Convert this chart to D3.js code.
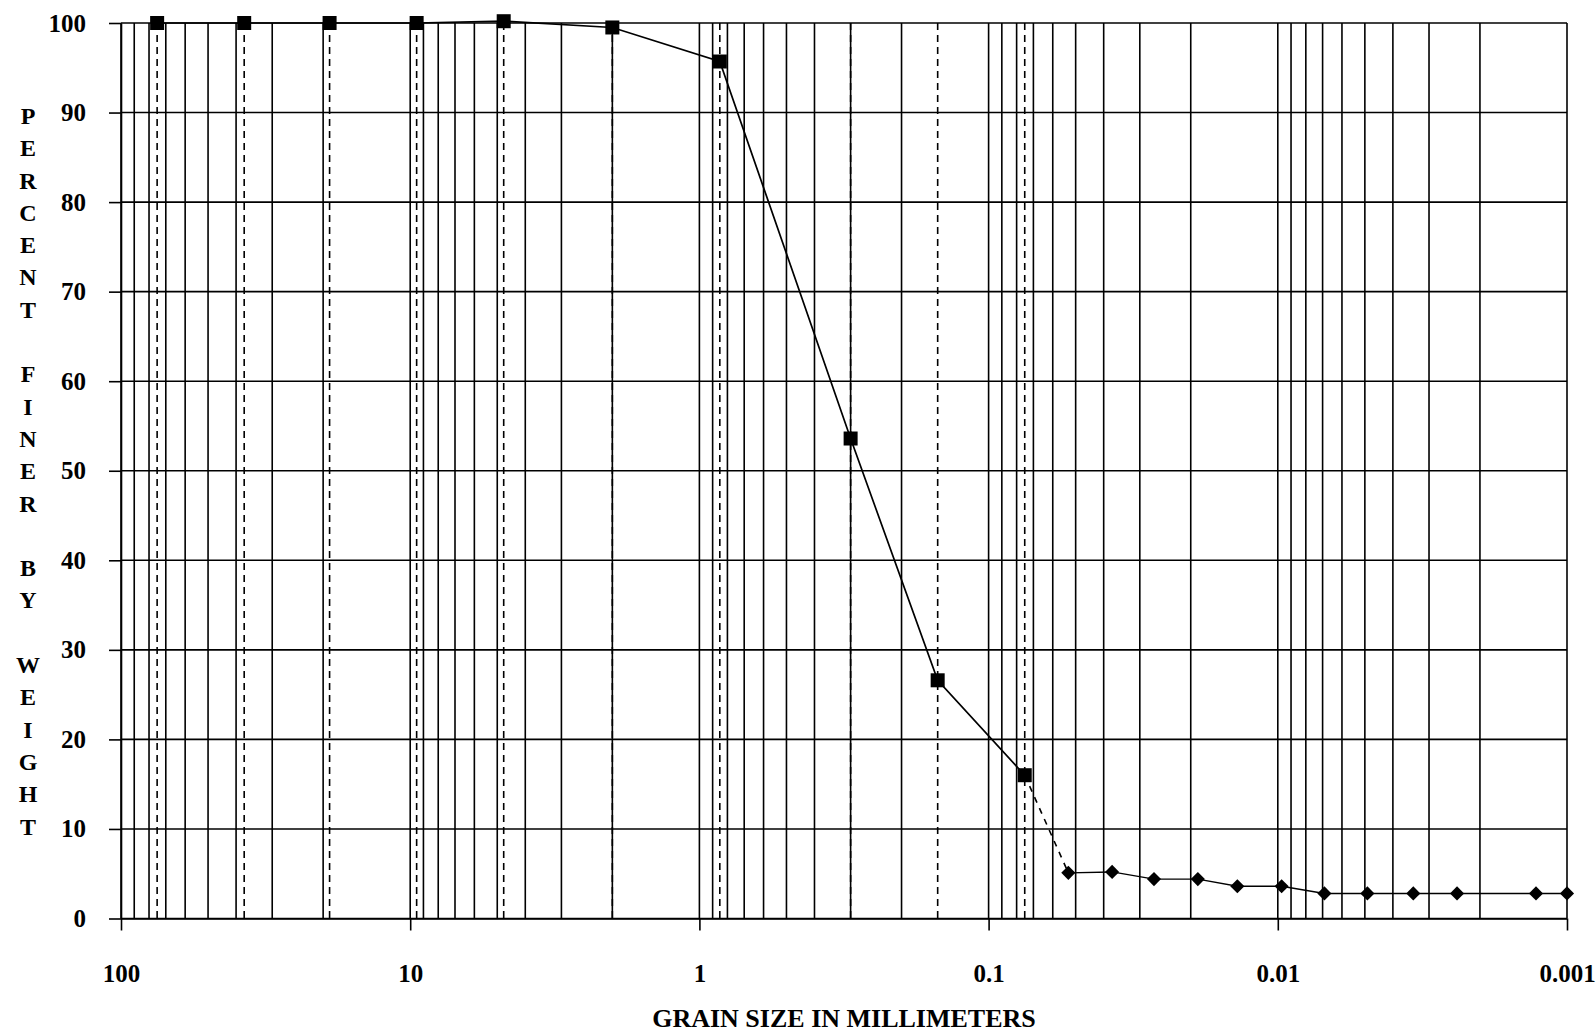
<!DOCTYPE html>
<html>
<head>
<meta charset="utf-8">
<script src="https://cdn.jsdelivr.net/npm/d3@7"></script>
<style>
body { margin: 0; background: #fff; }
text { font-family: "Liberation Serif", "Times New Roman", serif; font-weight: bold; fill: #000; }
.tickText { font-size: 25px; }
</style>
</head>
<body>
<div id="chart"></div>
<script>
// Sieve analysis (square markers)
var sieveSize = [75, 37.5, 19, 9.5, 4.75, 2.0, 0.85, 0.3, 0.15, 0.075];
var sievePct = [100, 100, 100, 100, 100.2, 99.5, 95.7, 53.6, 26.6, 16.0];

// Hydrometer analysis (diamond markers)
var hydroSize = [0.053, 0.0374, 0.0268, 0.0189, 0.0138, 0.0097, 0.0069, 0.0049, 0.0034, 0.0024, 0.00128, 0.001];
var hydroPct = [5.1, 5.2, 4.4, 4.4, 3.6, 3.6, 2.8, 2.8, 2.8, 2.8, 2.8, 2.8];

// Tick labels
var xTickValues = [100, 10, 1, 0.1, 0.01, 0.001];
var xTickLabels = ["100", "10", "1", "0.1", "0.01", "0.001"];
var yTickValues = [0, 10, 20, 30, 40, 50, 60, 70, 80, 90, 100];

var yTitle = "PERCENT FINER BY WEIGHT";
var xTitle = "GRAIN SIZE IN MILLIMETERS";

// Set up the svg params
var svgWidth = 1596;
var svgHeight = 1033;

var margin = {
    top: 23,
    right: 29,
    bottom: 114.5,
    left: 121
};

var width = svgWidth - margin.left - margin.right;
var height = svgHeight - margin.top - margin.bottom;

var svg = d3.select("#chart").append("svg")
    .attr("width", svgWidth)
    .attr("height", svgHeight);

var chartGroup = svg.append("g")
    .attr("transform", `translate(${margin.left}, ${margin.top})`);

// Scales (grain size runs large to small)
var xLogScale = d3.scaleLog()
    .domain([100, 0.001])
    .range([0, width]);

var yLinearScale = d3.scaleLinear()
    .domain([0, 100])
    .range([height, 0]);

// horizontal grid lines
chartGroup.append("g")
    .selectAll("line")
    .data(yTickValues)
    .enter()
    .append("line")
    .attr("x1", 0)
    .attr("x2", width)
    .attr("y1", d => yLinearScale(d))
    .attr("y2", d => yLinearScale(d))
    .attr("stroke", "#000")
    .attr("stroke-width", 1.6);

// vertical log grid lines (1..9 of every decade)
chartGroup.append("g")
    .selectAll("line")
    .data(xLogScale.ticks())
    .enter()
    .append("line")
    .attr("x1", d => xLogScale(d))
    .attr("x2", d => xLogScale(d))
    .attr("y1", 0)
    .attr("y2", height)
    .attr("stroke", "#000")
    .attr("stroke-width", 1.6);

// dashed lines at the sieve sizes
chartGroup.append("g")
    .selectAll("line")
    .data(sieveSize)
    .enter()
    .append("line")
    .attr("x1", d => xLogScale(d))
    .attr("x2", d => xLogScale(d))
    .attr("y1", 0)
    .attr("y2", height)
    .attr("stroke", "#000")
    .attr("stroke-width", 1.6)
    .attr("stroke-dasharray", "7,5");

// Axes
var bottomAxis = d3.axisBottom(xLogScale)
    .tickValues(xTickValues)
    .tickFormat((d, i) => xTickLabels[i])
    .tickSize(12)
    .tickSizeOuter(0)
    .tickPadding(34);

var leftAxis = d3.axisLeft(yLinearScale)
    .tickValues(yTickValues)
    .tickSize(12)
    .tickSizeOuter(0)
    .tickPadding(23);

var xAxis = chartGroup.append("g")
    .attr("transform", `translate(0, ${height})`)
    .call(bottomAxis);

var yAxis = chartGroup.append("g")
    .call(leftAxis);

[xAxis, yAxis].forEach(ax => {
    ax.selectAll("path, line").attr("stroke", "#000").attr("stroke-width", 1.6);
    ax.selectAll("text").classed("tickText", true);
});

// Line data
var sieveData = sieveSize.map((s, i) => ({ size: s, pct: sievePct[i] }));
var hydroData = hydroSize.map((s, i) => ({ size: s, pct: hydroPct[i] }));

var line = d3.line()
    .x(d => xLogScale(d.size))
    .y(d => yLinearScale(d.pct));

chartGroup.append("path")
    .datum(sieveData)
    .attr("d", line)
    .attr("fill", "none")
    .attr("stroke", "#000")
    .attr("stroke-width", 1.7);

// dashed link between sieve and hydrometer results
chartGroup.append("path")
    .datum([sieveData[sieveData.length - 1], hydroData[0]])
    .attr("d", line)
    .attr("fill", "none")
    .attr("stroke", "#000")
    .attr("stroke-width", 1.6)
    .attr("stroke-dasharray", "6,6");

chartGroup.append("path")
    .datum(hydroData)
    .attr("d", line)
    .attr("fill", "none")
    .attr("stroke", "#000")
    .attr("stroke-width", 1.4);

// Markers
chartGroup.append("g")
    .selectAll("rect")
    .data(sieveData)
    .enter()
    .append("rect")
    .attr("x", d => xLogScale(d.size) - 7)
    .attr("y", d => yLinearScale(d.pct) - 7)
    .attr("width", 14)
    .attr("height", 14)
    .attr("fill", "#000");

chartGroup.append("g")
    .selectAll("path")
    .data(hydroData)
    .enter()
    .append("path")
    .attr("d", d3.symbol().type(d3.symbolSquare).size(100))
    .attr("transform", d => `translate(${xLogScale(d.size)}, ${yLinearScale(d.pct)}) rotate(45)`)
    .attr("fill", "#000");

// y title, one letter per line
svg.append("g")
    .selectAll("text")
    .data(yTitle.split(""))
    .enter()
    .append("text")
    .attr("x", 28)
    .attr("y", (d, i) => 115.5 + i * 32.3)
    .attr("dy", "0.35em")
    .attr("text-anchor", "middle")
    .style("font-size", "24px")
    .text(d => d.trim());

// x title
svg.append("text")
    .attr("x", margin.left + width / 2)
    .attr("y", 1027)
    .attr("text-anchor", "middle")
    .style("font-size", "26px")
    .text(xTitle);
</script>
</body>
</html>
